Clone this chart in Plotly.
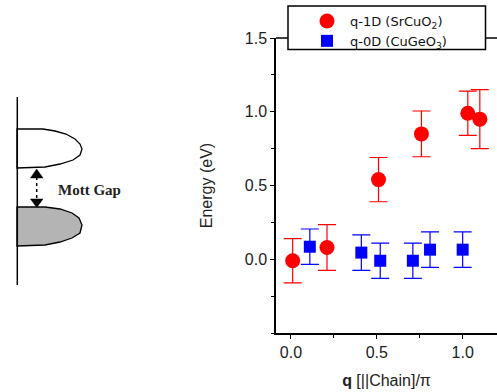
import plotly.graph_objects as go

# ---- data ----
q1d_x = [0.01, 0.21, 0.51, 0.76, 1.03, 1.10]
q1d_y = [-0.01, 0.08, 0.54, 0.85, 0.99, 0.95]
q1d_err = [0.15, 0.155, 0.15, 0.155, 0.15, 0.20]

q0d_x = [0.11, 0.41, 0.52, 0.71, 0.81, 1.00]
q0d_y = [0.085, 0.045, -0.01, -0.01, 0.065, 0.065]
q0d_err = [0.12, 0.12, 0.12, 0.12, 0.12, 0.12]

x_ticks = [0.0, 0.5, 1.0]
y_ticks = [0.0, 0.5, 1.0, 1.5]

W, H = 497, 392
ML, MR, MT, MB = 276, 0, 38, 59
PW, PH = W - ML - MR, H - MT - MB

def px(x):
    return (x - ML) / PW

def py(y):
    return (H - MB - y) / PH

def path(pts):
    s = "M %f,%f " % (px(pts[0][0]), py(pts[0][1]))
    for p in pts[1:]:
        s += "L %f,%f " % (px(p[0]), py(p[1]))
    return s + "Z"

fig = go.Figure()
fig.add_trace(go.Scatter(
    x=q1d_x, y=q1d_y, mode="markers", name="q-1D (SrCuO<sub>2</sub>)",
    marker=dict(symbol="circle", size=15, color="#ff0000", line=dict(width=0)),
    error_y=dict(type="data", array=q1d_err, visible=True, color="#ff0000", thickness=1.2, width=9),
))
fig.add_trace(go.Scatter(
    x=q0d_x, y=q0d_y, mode="markers", name="q-0D (CuGeO<sub>3</sub>)",
    marker=dict(symbol="square", size=12, color="#0000ff", line=dict(width=0)),
    error_y=dict(type="data", array=q0d_err, visible=True, color="#0000ff", thickness=1.2, width=9),
))

# ---- schematic on the left ----
upper = [(17, 129), (43, 129), (55, 131), (66, 134), (75, 139), (80, 144), (82, 149),
         (80, 155), (73, 160), (60, 164), (45, 167), (17, 168)]
lower = [(17, 207), (45, 207), (60, 209), (72, 213), (79, 218), (82, 225),
         (80, 233), (72, 238), (60, 242), (45, 245), (17, 246)]
shapes = [
    dict(type="path", xref="paper", yref="paper", path=path(upper),
         fillcolor="white", line=dict(color="black", width=1.3)),
    dict(type="path", xref="paper", yref="paper", path=path(lower),
         fillcolor="#b4b4b4", line=dict(color="black", width=1.3)),
    dict(type="line", xref="paper", yref="paper", x0=px(17.3), x1=px(17.3),
         y0=py(97), y1=py(285), line=dict(color="black", width=1.5)),
    dict(type="line", xref="paper", yref="paper", x0=px(36.7), x1=px(36.7),
         y0=py(177), y1=py(199), line=dict(color="black", width=1.5, dash="dot")),
    dict(type="path", xref="paper", yref="paper",
         path=path([(36.7, 169), (43, 178), (30.5, 178)]),
         fillcolor="black", line=dict(color="black", width=0.5)),
    dict(type="path", xref="paper", yref="paper",
         path=path([(30.5, 199), (43, 199), (36.7, 207.5)]),
         fillcolor="black", line=dict(color="black", width=0.5)),
    # top frame line of the plot
    dict(type="line", xref="paper", yref="paper", layer="below",
         x0=0, x1=1, y0=1, y1=1, line=dict(color="black", width=1.5)),
    # legend frame
    dict(type="rect", xref="paper", yref="paper", layer="above",
         x0=px(288), x1=px(485.5), y0=py(6), y1=py(49.5),
         fillcolor="white", line=dict(color="black", width=1.5)),
]

fig.update_layout(
    width=W, height=H,
    margin=dict(l=ML, r=MR, t=MT, b=MB, pad=0),
    paper_bgcolor="white", plot_bgcolor="white",
    font=dict(family="Liberation Sans, Arial, sans-serif", size=16, color="#222"),
    shapes=shapes,
    showlegend=True,
    legend=dict(x=px(304), y=py(6), xanchor="left", yanchor="top",
                bgcolor="rgba(0,0,0,0)", borderwidth=0,
                font=dict(family="DejaVu Sans, sans-serif", size=13, color="#111"),
                itemwidth=36, tracegroupgap=0),
    annotations=[dict(text="<b>Mott Gap</b>", xref="paper", yref="paper",
                      x=px(56), y=py(190), xanchor="left", yanchor="middle",
                      showarrow=False,
                      font=dict(family="Liberation Serif, Times New Roman, serif",
                                size=15, color="#222"))],
)
fig.update_xaxes(
    range=[-0.087, 1.2], tickvals=x_ticks, ticktext=["0.0", "0.5", "1.0"],
    showline=True, linecolor="black", linewidth=1.5, mirror=False,
    ticks="outside", ticklen=4, tickcolor="black", tickwidth=1,
    minor=dict(dtick=0.25, tick0=0, ticks="outside", ticklen=3, tickcolor="black"),
    showgrid=False, zeroline=False,
    title=dict(text="<b>q</b> [||Chain]/π", font=dict(size=16), standoff=15),
)
fig.update_yaxes(
    range=[-0.5, 1.5], tickvals=y_ticks, ticktext=["0.0", "0.5", "1.0", "1.5"],
    showline=True, linecolor="black", linewidth=1.5, mirror=False,
    ticks="outside", ticklen=4, tickcolor="black", tickwidth=1,
    minor=dict(dtick=0.25, tick0=0, ticks="outside", ticklen=3, tickcolor="black"),
    showgrid=False, zeroline=False,
    title=dict(text="Energy (eV)", font=dict(size=16), standoff=28),
)
fig.write_html("out.html", config={"displayModeBar": False},
               post_script="document.body.style.margin='0px';")
